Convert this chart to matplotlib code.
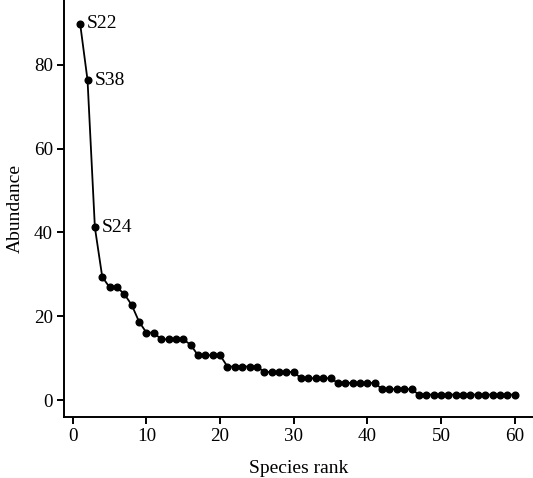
import numpy as np
import matplotlib
matplotlib.use("Agg")
import matplotlib.pyplot as plt

plt.rcParams['font.family'] = ['Liberation Serif', 'DejaVu Serif']

# abundance of each species, sorted by rank
rank = np.arange(1, 61)
abundance = [89.8, 76.4, 41.2, 29.4, 26.9, 26.9, 25.3, 22.7, 18.7, 16.1,
             16.1, 14.5, 14.5, 14.5, 14.5, 13.2, 10.7, 10.7, 10.7, 10.7,
             8.0, 8.0, 8.0, 8.0, 8.0, 6.7, 6.7, 6.7, 6.7, 6.7,
             5.2, 5.2, 5.2, 5.2, 5.2, 4.1, 4.1, 4.1, 4.1, 4.1,
             4.1, 2.6, 2.6, 2.6, 2.6, 2.6] + [1.3] * 14

# dominant species get a name tag
named = {0: "S22", 1: "S38", 2: "S24"}

fig = plt.figure(figsize=(5.33, 4.78), dpi=100)
ax = fig.add_axes([0.12, 0.128, 0.88, 0.872])

ax.plot(rank, abundance, 'k-', lw=1.3, marker='o', ms=4.8)
for i, name in named.items():
    ax.annotate(name, (rank[i], abundance[i]), xytext=(5, 0),
                textcoords='offset points', va='center', ha='left', fontsize=14)

ax.set_xlim(-1.2, 62.5)
ax.set_ylim(-4, 95.5)
ax.set_xticks(np.arange(0, 61, 10))
ax.set_yticks(np.arange(0, 81, 20))
ax.spines['top'].set_visible(False)
ax.spines['right'].set_visible(False)
for s in ['left', 'bottom']:
    ax.spines[s].set_linewidth(1.4)
ax.tick_params(direction='out', length=5, width=1.4, labelsize=13.7, pad=3)

ax.set_xlabel("Species rank", fontsize=14, labelpad=11)
ax.set_ylabel("Abundance", fontsize=14, labelpad=7)

fig.savefig("out.png", dpi=100)
